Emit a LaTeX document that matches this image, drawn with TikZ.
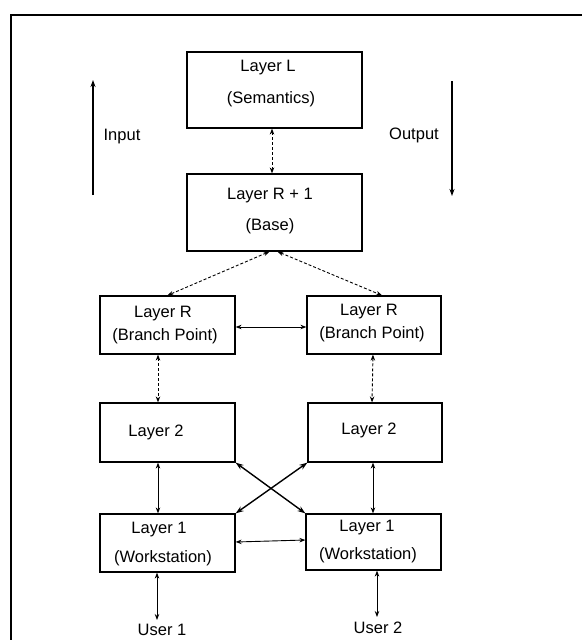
\documentclass[tikz,border=0pt]{standalone}
\usepackage{fontspec}
\setmainfont{Liberation Sans}
\usetikzlibrary{arrows.meta}
\begin{document}
\begin{tikzpicture}[x=1pt,y=-1pt,
  layerbox/.style={draw,line width=1.2pt,inner sep=0pt,minimum width=#1},
  lbl/.style={inner sep=0pt,font=\fontsize{16.5}{19}\selectfont},
  link/.style={line width=0.9pt,{Stealth[length=6pt,width=4.5pt]}-{Stealth[length=6pt,width=4.5pt]}},
  dlink/.style={link,densely dashed},
  xlink/.style={line width=1.4pt,{Stealth[length=8pt,width=5.5pt]}-{Stealth[length=8pt,width=5.5pt]}},
  flow/.style={line width=1.1pt,-{Stealth[length=7pt,width=5pt]}}]
\useasboundingbox (0,0) rectangle (582,640);
\fill[white] (0,0) rectangle (582,640);
% outer frame (left and top edges)
\draw[line width=2.2pt] (11,640) -- (11,15) -- (582,15);

% layer boxes
\node[layerbox=175pt,minimum height=76pt] (L)   at (274.5,90)  {};
\node[layerbox=175pt,minimum height=77pt] (B)   at (274.5,212.5) {};
\node[layerbox=135pt,minimum height=58pt] (BL)  at (167.5,325) {};
\node[layerbox=134pt,minimum height=58pt] (BR)  at (374,325)   {};
\node[layerbox=135pt,minimum height=59pt] (L2L) at (167.5,432.5) {};
\node[layerbox=134pt,minimum height=59pt] (L2R) at (375,432.5) {};
\node[layerbox=135pt,minimum height=58pt] (L1L) at (167.5,543) {};
\node[layerbox=135pt,minimum height=56pt] (L1R) at (373.5,542) {};

% box texts
\node[lbl] (tL1)  at (268,68)  {Layer L};
\node[lbl] (tL2)  at (271,99)  {(Semantics)};
\node[lbl] (tB1)  at (270,196) {Layer R + 1};
\node[lbl] (tB2)  at (270,226) {(Base)};
\node[lbl] (tBL1) at (163,314) {Layer R};
\node[lbl] (tBL2) at (165,336) {(Branch Point)};
\node[lbl] (tBR1) at (369,312) {Layer R};
\node[lbl] (tBR2) at (372,334) {(Branch Point)};
\node[lbl] (t2L)  at (156,432) {Layer 2};
\node[lbl] (t2R)  at (369,430) {Layer 2};
\node[lbl] (t1L1) at (159,530) {Layer 1};
\node[lbl] (t1L2) at (163,558) {(Workstation)};
\node[lbl] (t1R1) at (367,528) {Layer 1};
\node[lbl] (t1R2) at (368,555) {(Workstation)};
\node[lbl] (u1)   at (162,630) {User 1};
\node[lbl] (u2)   at (378,628) {User 2};

% input / output direction arrows
\coordinate (inlo)  at (93,195);
\coordinate (inhi)  at (93,80);
\coordinate (outhi) at (452,81);
\coordinate (outlo) at (452,196);
\node[lbl] (tin)  at (122,137) {Input};
\node[lbl] (tout) at (414,135) {Output};
\draw[flow] (inlo) -- (inhi);
\draw[flow] (outhi) -- (outlo);

% connectors between layers
\draw[dlink] ([xshift=-2.5pt]L.south) -- ([xshift=-2.5pt]B.north);
\draw[dlink] ([xshift=-5pt]B.south) -- (BL.north);
\draw[dlink] ([xshift=3pt]B.south) -- ([xshift=8pt]BR.north);
\draw[link] ([yshift=-2pt]BL.east) -- ([yshift=-2pt]BR.west);
\draw[dlink] ([xshift=-9.5pt]BL.south) -- ([xshift=-9.5pt]L2L.north);
\draw[dlink] ([xshift=-1pt]BR.south) -- ([xshift=-3pt]L2R.north);
\draw[link] ([xshift=-9.5pt]L2L.south) -- ([xshift=-9.5pt]L1L.north);
\draw[link] ([xshift=-2pt]L2R.south) -- ([xshift=-0.5pt]L1R.north);
\draw[xlink] (L2L.south east) -- (L1R.north west);
\draw[xlink] (L2R.south west) -- (L1L.north east);
\draw[link] ([yshift=1pt]L1L.east) -- ([yshift=2pt]L1R.west);

% workstation to user
\coordinate (e1) at (157,620);
\coordinate (e2) at (377,617);
\draw[link] ([xshift=-10.5pt]L1L.south) -- (e1);
\draw[link] ([xshift=3.5pt]L1R.south) -- (e2);
\end{tikzpicture}
\end{document}
